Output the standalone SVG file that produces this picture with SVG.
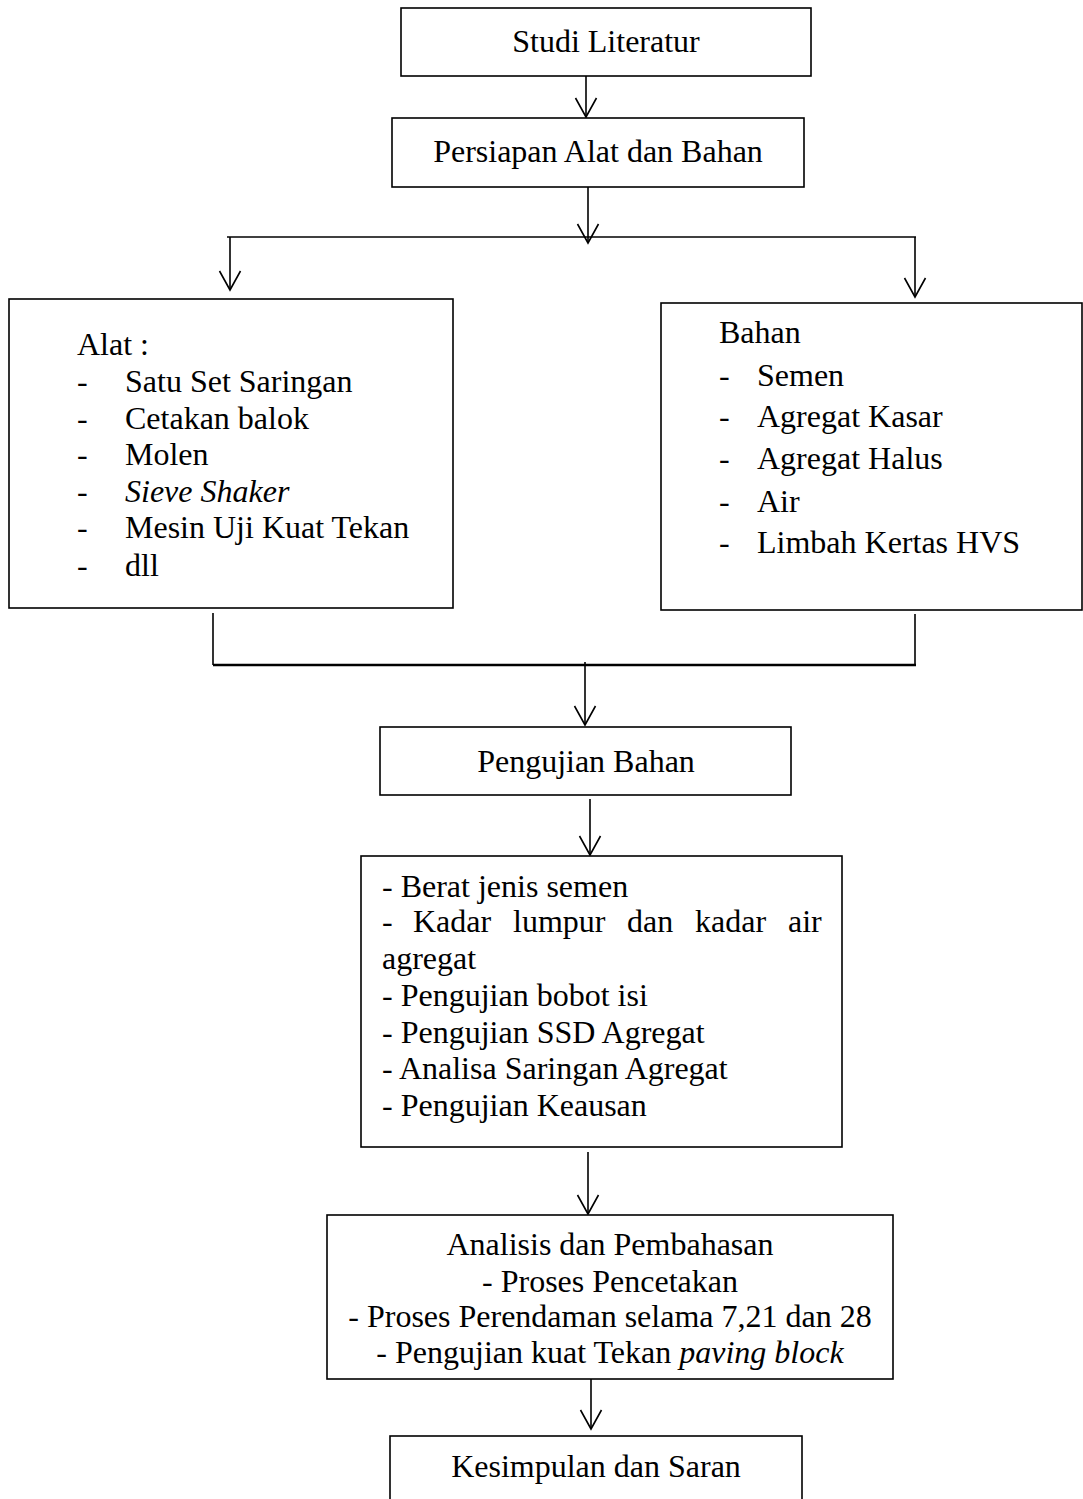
<svg xmlns="http://www.w3.org/2000/svg" width="1083" height="1499" viewBox="0 0 1083 1499">
<style>
  .box { fill: #ffffff; stroke: #000000; stroke-width: 1.6; }
  .t { font-family: "Liberation Serif", "Times New Roman", serif; font-size: 32px; fill: #000000; }
  .c { text-anchor: middle; }
  .i { font-style: italic; }
  .ln { fill: none; stroke: #000000; stroke-width: 1.6; }
  .thick { stroke-width: 2.6; }
</style>
<defs>
  <marker id="arr" markerUnits="userSpaceOnUse" markerWidth="44" markerHeight="44" viewBox="-22 -22 44 44" refX="0" refY="0" orient="auto" overflow="visible">
    <path d="M -19 -10.5 L 0 0 L -19 10.5" fill="none" stroke="#000000" stroke-width="1.6"/>
  </marker>
</defs>
<rect width="1083" height="1499" fill="#ffffff"/>

<g id="connectors">
  <line class="ln" x1="586" y1="76" x2="586" y2="117" marker-end="url(#arr)"/>
  <line class="ln" x1="588" y1="187" x2="588" y2="243" marker-end="url(#arr)"/>
  <line class="ln" x1="227" y1="237" x2="916" y2="237"/>
  <line class="ln" x1="230" y1="237" x2="230" y2="290" marker-end="url(#arr)"/>
  <line class="ln" x1="915" y1="237" x2="915" y2="297" marker-end="url(#arr)"/>
  <line class="ln" x1="213" y1="613" x2="213" y2="665"/>
  <line class="ln" x1="915" y1="614" x2="915" y2="665"/>
  <line class="ln thick" x1="213" y1="665" x2="916" y2="665"/>
  <line class="ln" x1="585" y1="662" x2="585" y2="725" marker-end="url(#arr)"/>
  <line class="ln" x1="590" y1="799" x2="590" y2="855" marker-end="url(#arr)"/>
  <line class="ln" x1="588" y1="1152" x2="588" y2="1214" marker-end="url(#arr)"/>
  <line class="ln" x1="591" y1="1379" x2="591" y2="1429" marker-end="url(#arr)"/>
</g>

<g id="studi-literatur">
  <rect class="box" x="401" y="8" width="410" height="68"/>
  <text class="t c" x="606" y="52">Studi Literatur</text>
</g>

<g id="persiapan">
  <rect class="box" x="392" y="118" width="412" height="69"/>
  <text class="t c" x="598" y="162">Persiapan Alat dan Bahan</text>
</g>

<g id="alat">
  <rect class="box" x="9" y="299" width="444" height="309"/>
  <text class="t" x="77" y="355">Alat :</text>
  <text class="t" x="77" y="392">-</text><text class="t" x="125" y="392">Satu Set Saringan</text>
  <text class="t" x="77" y="429">-</text><text class="t" x="125" y="429">Cetakan balok</text>
  <text class="t" x="77" y="465">-</text><text class="t" x="125" y="465">Molen</text>
  <text class="t" x="77" y="502">-</text><text class="t i" x="125" y="502">Sieve Shaker</text>
  <text class="t" x="77" y="538">-</text><text class="t" x="125" y="538">Mesin Uji Kuat Tekan</text>
  <text class="t" x="77" y="576">-</text><text class="t" x="125" y="576">dll</text>
</g>

<g id="bahan">
  <rect class="box" x="661" y="303" width="421" height="307"/>
  <text class="t" x="719" y="343">Bahan</text>
  <text class="t" x="719" y="386">-</text><text class="t" x="757" y="386">Semen</text>
  <text class="t" x="719" y="427">-</text><text class="t" x="757" y="427">Agregat Kasar</text>
  <text class="t" x="719" y="469">-</text><text class="t" x="757" y="469">Agregat Halus</text>
  <text class="t" x="719" y="512">-</text><text class="t" x="757" y="512">Air</text>
  <text class="t" x="719" y="553">-</text><text class="t" x="757" y="553">Limbah Kertas HVS</text>
</g>

<g id="pengujian-bahan">
  <rect class="box" x="380" y="727" width="411" height="68"/>
  <text class="t c" x="586" y="772">Pengujian Bahan</text>
</g>

<g id="daftar-pengujian">
  <rect class="box" x="361" y="856" width="481" height="291"/>
  <text class="t" x="382" y="897">- Berat jenis semen</text>
  <text class="t" y="932"><tspan x="382">-</tspan><tspan x="413">Kadar</tspan><tspan x="513">lumpur</tspan><tspan x="627">dan</tspan><tspan x="695">kadar</tspan><tspan x="788">air</tspan></text>
  <text class="t" x="382" y="969">agregat</text>
  <text class="t" x="382" y="1006">- Pengujian bobot isi</text>
  <text class="t" x="382" y="1043">- Pengujian SSD Agregat</text>
  <text class="t" x="382" y="1079">- Analisa Saringan Agregat</text>
  <text class="t" x="382" y="1116">- Pengujian Keausan</text>
</g>

<g id="analisis">
  <rect class="box" x="327" y="1215" width="566" height="164"/>
  <text class="t c" x="610" y="1255">Analisis dan Pembahasan</text>
  <text class="t c" x="610" y="1292">- Proses Pencetakan</text>
  <text class="t c" x="610" y="1327">- Proses Perendaman selama 7,21 dan 28</text>
  <text class="t c" x="610" y="1363">- Pengujian kuat Tekan <tspan class="i">paving block</tspan></text>
</g>

<g id="kesimpulan">
  <rect class="box" x="390" y="1436" width="412" height="90"/>
  <text class="t c" x="596" y="1477">Kesimpulan dan Saran</text>
</g>
</svg>
